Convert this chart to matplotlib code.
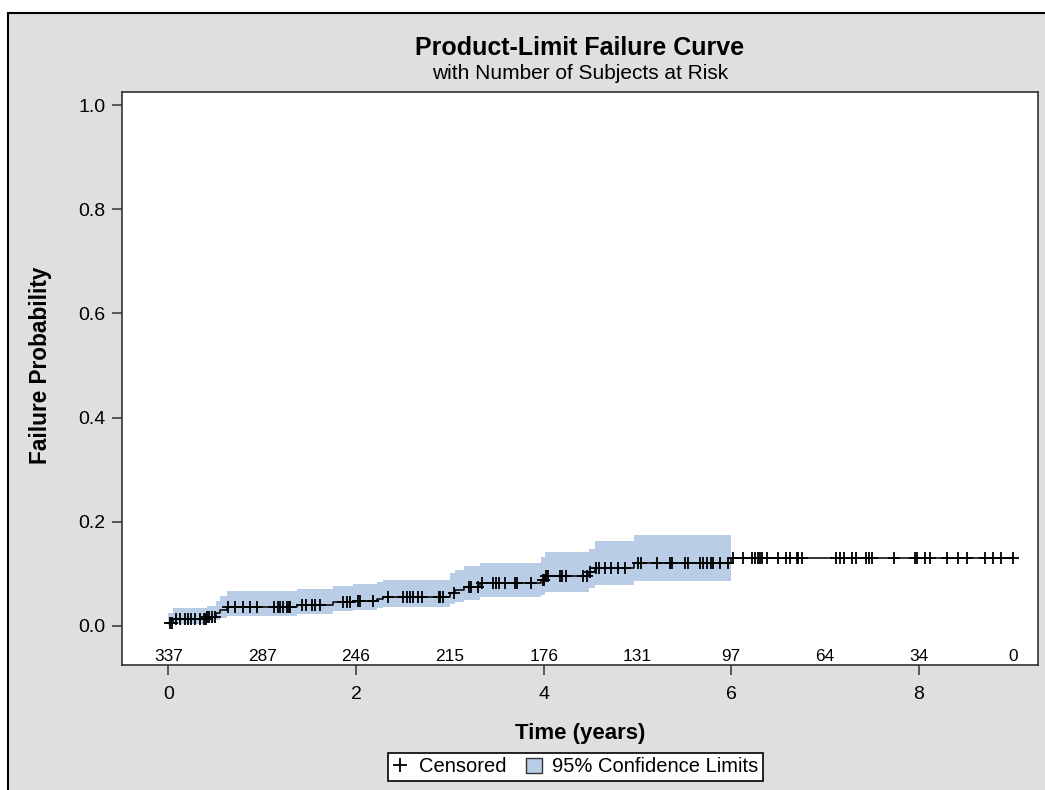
import numpy as np
import matplotlib
matplotlib.use('Agg')
import matplotlib.pyplot as plt
from matplotlib.patches import Rectangle, Patch
from matplotlib.lines import Line2D

plt.rcParams['font.family'] = ['Liberation Sans', 'DejaVu Sans']

# ---------------- data ----------------
step_times = np.array([0.00, 0.05, 0.41, 0.51, 0.55, 0.62, 1.37, 1.75, 1.97, 2.22, 2.29,
                       3.00, 3.05, 3.15, 3.32, 3.97, 4.01, 4.48, 4.55, 4.96, 6.00])
failure_prob = np.array([0.006, 0.013, 0.017, 0.024, 0.031, 0.037, 0.040, 0.046, 0.048, 0.052, 0.055,
                         0.063, 0.069, 0.075, 0.083, 0.088, 0.096, 0.104, 0.111, 0.120, 0.131])
ci_lower = np.array([0.000, 0.004, 0.007, 0.011, 0.015, 0.020, 0.023, 0.028, 0.031, 0.034, 0.036,
                     0.042, 0.046, 0.050, 0.056, 0.060, 0.066, 0.072, 0.078, 0.086])
ci_upper = np.array([0.024, 0.034, 0.038, 0.048, 0.058, 0.067, 0.071, 0.077, 0.081, 0.085, 0.088,
                     0.102, 0.108, 0.115, 0.121, 0.132, 0.142, 0.148, 0.164, 0.175])
band_end = 6.0
curve_end = 9.0

censor_times = np.array([
    0.016, 0.034, 0.08, 0.12, 0.176, 0.21, 0.236, 0.28, 0.336, 0.38, 0.40, 0.41, 0.435, 0.46, 0.496,
    0.63, 0.71, 0.80, 0.87, 0.94, 1.13, 1.17, 1.19, 1.22, 1.26, 1.28, 1.30, 1.42, 1.47, 1.53, 1.56,
    1.62, 1.86, 1.90, 1.94, 2.02, 2.04, 2.18, 2.34, 2.50, 2.54, 2.57, 2.61, 2.66, 2.70,
    2.88, 2.90, 2.93, 3.04, 3.20, 3.23, 3.30, 3.34, 3.46, 3.49, 3.52, 3.59, 3.69, 3.72, 3.87,
    3.99, 4.00, 4.03, 4.05, 4.17, 4.20, 4.24, 4.42, 4.46, 4.49, 4.56, 4.59, 4.65, 4.72, 4.79,
    4.87, 5.01, 5.04, 5.21, 5.35, 5.37, 5.51, 5.54, 5.67, 5.70, 5.74, 5.78, 5.81, 5.88, 5.97,
    6.02, 6.13, 6.22, 6.25, 6.29, 6.31, 6.33, 6.38, 6.50, 6.58, 6.63, 6.70, 6.71, 6.75, 7.12,
    7.16, 7.20, 7.29, 7.33, 7.44, 7.47, 7.50, 7.73, 7.96, 7.98, 8.07, 8.12, 8.30, 8.42, 8.51,
    8.70, 8.79, 8.88, 9.00])

risk_times = [0, 1, 2, 3, 4, 5, 6, 7, 8, 9]
risk_counts = [337, 287, 246, 215, 176, 131, 97, 64, 34, 0]

x_ticks = [0, 2, 4, 6, 8]
y_ticks = [0.0, 0.2, 0.4, 0.6, 0.8, 1.0]

title = "Product-Limit Failure Curve"
subtitle = "with Number of Subjects at Risk"
x_label = "Time (years)"
y_label = "Failure Probability"
legend_labels = ["Censored", "95% Confidence Limits"]

band_color = '#B9CDE6'
bg_color = '#DFDFDF'
spine_color = '#333333'

# ---------------- figure ----------------
W, H = 1045, 790
fig = plt.figure(figsize=(W / 100, H / 100), dpi=100)
fig.patch.set_facecolor('white')
fig.add_artist(Rectangle((8 / W, -0.05), 1.2, 1 - 13 / H + 0.05, transform=fig.transFigure,
                         facecolor=bg_color, edgecolor='black', lw=1.5, zorder=0))

ax = fig.add_axes([122 / W, 1 - 665 / H, (1038 - 122) / W, (665 - 92) / H])
ax.set_facecolor('white')

# confidence band
bx = np.append(step_times[:len(ci_lower)], band_end)
bl = np.append(ci_lower, ci_lower[-1])
bu = np.append(ci_upper, ci_upper[-1])
ax.fill_between(bx, bl, bu, step='post', color=band_color, lw=0, zorder=1)

# step curve
cx = np.append(step_times, curve_end)
cy = np.append(failure_prob, failure_prob[-1])
ax.plot(cx, cy, drawstyle='steps-post', color='black', lw=1.1, zorder=3)

# censored marks
idx = np.searchsorted(step_times, censor_times, side='right') - 1
ax.plot(censor_times, failure_prob[idx], ls='none', marker='+', ms=8.6, mew=1.3,
        color='black', zorder=4)

# number at risk
for t, n in zip(risk_times, risk_counts):
    ax.text(t, -0.068, str(n), ha='center', va='baseline', fontsize=12.4, color='black')

ax.set_xlim(-0.495, 9.27)
ax.set_ylim(-0.075, 1.025)
ax.set_xticks(x_ticks)
ax.set_yticks(y_ticks)
ax.yaxis.set_major_formatter(matplotlib.ticker.FormatStrFormatter('%.1f'))
ax.tick_params(direction='out', length=7, width=1.1, labelsize=14, color=spine_color,
               labelcolor='black', pad=5)
ax.tick_params(axis='x', pad=8)
for s in ax.spines.values():
    s.set_color(spine_color)
    s.set_linewidth(1.2)

cxf = (122 + 1038) / 2 / W
fig.text(cxf, 1 - 55 / H, title, ha='center', va='baseline', fontsize=18, fontweight='bold')
fig.text(cxf, 1 - 79 / H, subtitle, ha='center', va='baseline', fontsize=15)
fig.text(cxf, 1 - 739 / H, x_label, ha='center', va='baseline', fontsize=16, fontweight='bold')
fig.text(41 / W, 1 - 365.5 / H, y_label, ha='center', va='center', rotation=90,
         fontsize=16.3, fontweight='bold')

handles = [Line2D([], [], ls='none', marker='+', color='black', ms=10, mew=1.3),
           Patch(facecolor=band_color, edgecolor='#333333', lw=1)]
leg = fig.legend(handles, legend_labels, loc='center', bbox_to_anchor=(575.5 / W, 1 - 767 / H),
                 bbox_transform=fig.transFigure, ncol=2, frameon=True, fancybox=False,
                 edgecolor='black', fontsize=14.5, handlelength=0.8, handleheight=0.8,
                 handletextpad=0.5, columnspacing=1.0, borderpad=0.2, framealpha=1,
                 borderaxespad=0)
leg.get_frame().set_linewidth(1.2)

fig.savefig('out.png', dpi=100, facecolor=fig.get_facecolor())
